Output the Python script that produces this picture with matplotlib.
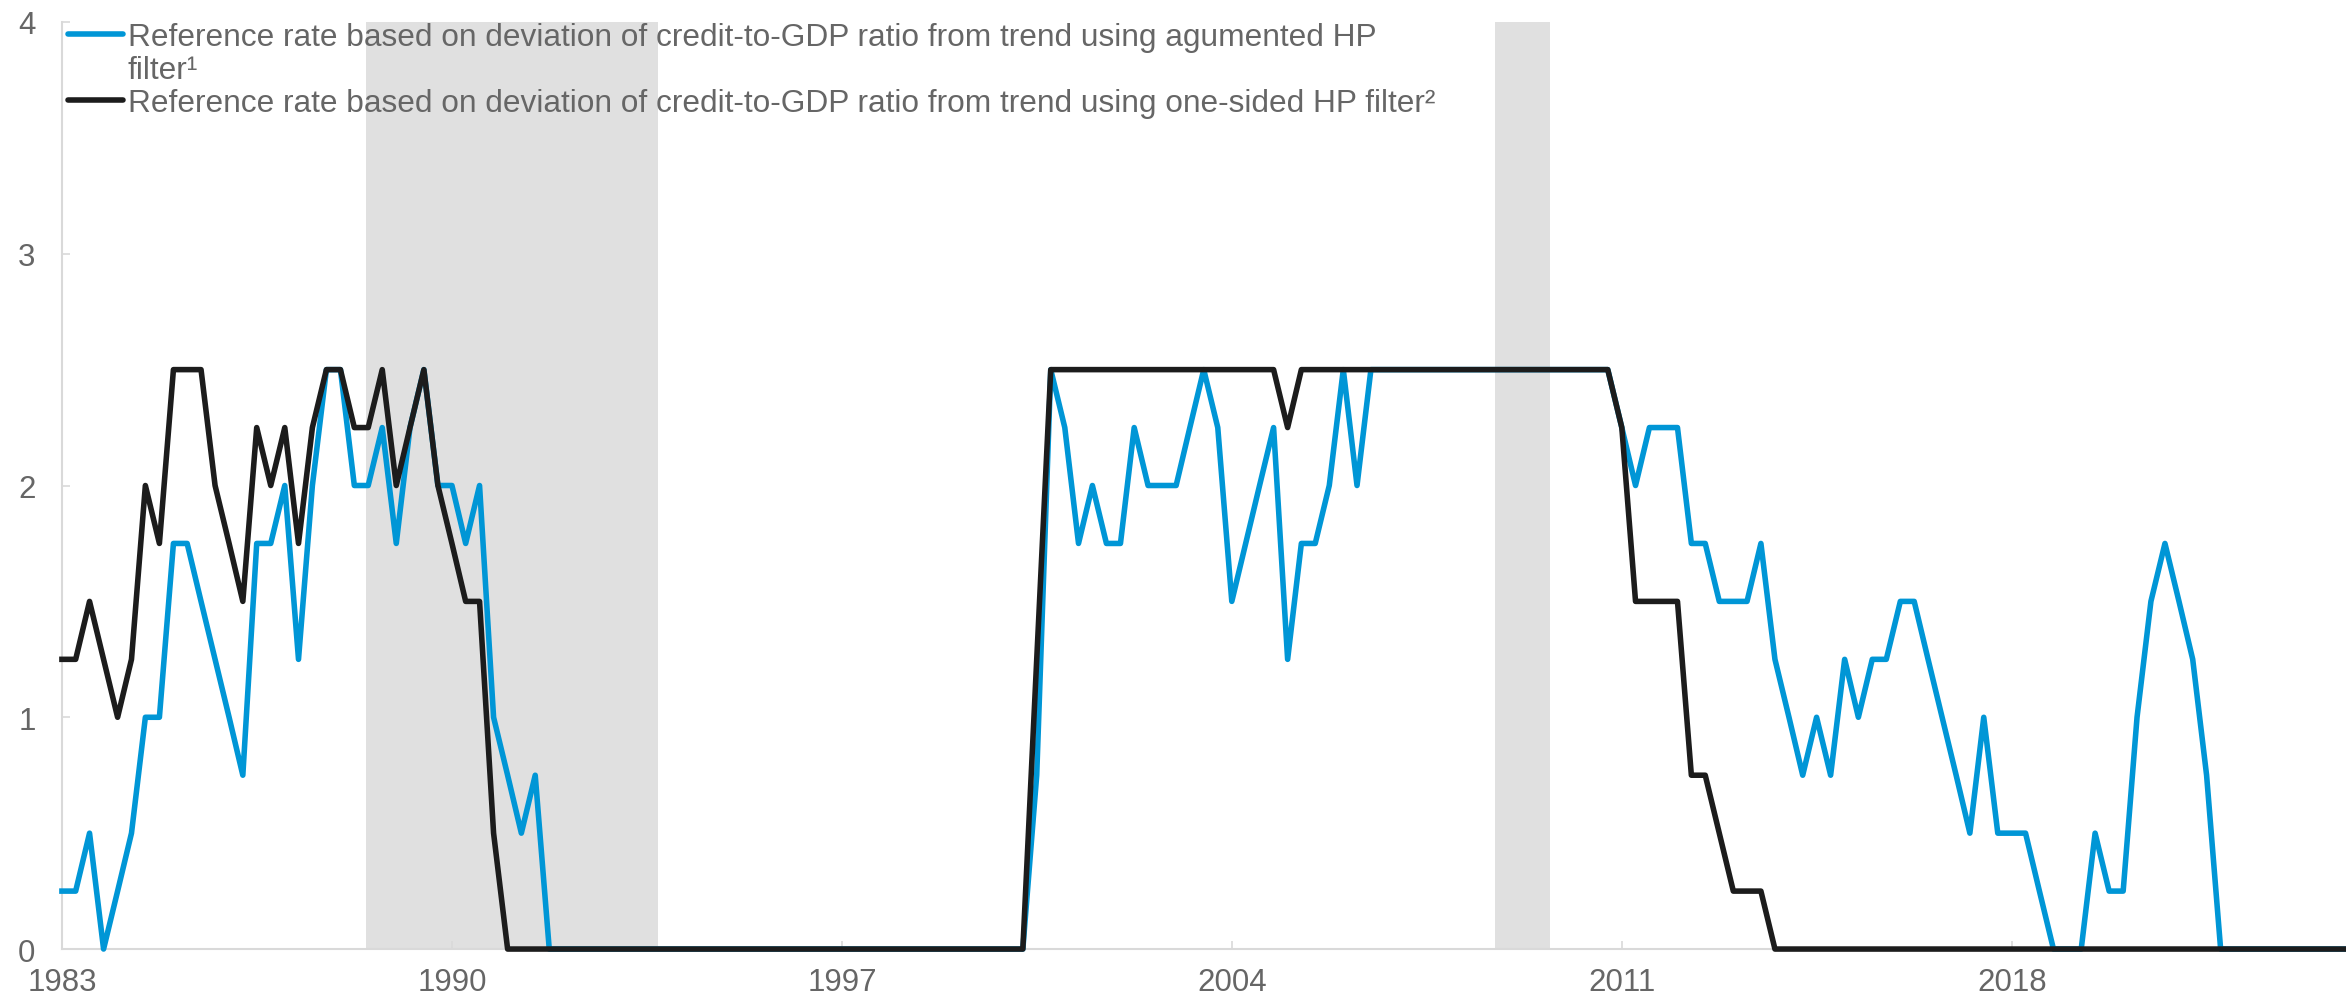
import numpy as np
import pandas as pd
import matplotlib
matplotlib.use('Agg')
import matplotlib.pyplot as plt
import matplotlib.dates as mdates
from matplotlib.lines import Line2D

plt.rcParams['font.family'] = ['Liberation Sans', 'DejaVu Sans']

# quarterly reference rates, 1983Q1 - 2024Q1 (one row per year)
rate_aug = [
    0.25, 0.25, 0.5, 0,        # 1983
    0.25, 0.5, 1.0, 1.0,       # 1984
    1.75, 1.75, 1.5, 1.25,     # 1985
    1.0, 0.75, 1.75, 1.75,     # 1986
    2.0, 1.25, 2.0, 2.5,       # 1987
    2.5, 2.0, 2.0, 2.25,       # 1988
    1.75, 2.25, 2.5, 2.0,      # 1989
    2.0, 1.75, 2.0, 1.0,       # 1990
    0.75, 0.5, 0.75, 0,        # 1991
    0, 0, 0, 0,                # 1992
    0, 0, 0, 0,                # 1993
    0, 0, 0, 0,                # 1994
    0, 0, 0, 0,                # 1995
    0, 0, 0, 0,                # 1996
    0, 0, 0, 0,                # 1997
    0, 0, 0, 0,                # 1998
    0, 0, 0, 0,                # 1999
    0, 0, 0.75, 2.5,           # 2000
    2.25, 1.75, 2.0, 1.75,     # 2001
    1.75, 2.25, 2.0, 2.0,      # 2002
    2.0, 2.25, 2.5, 2.25,      # 2003
    1.5, 1.75, 2.0, 2.25,      # 2004
    1.25, 1.75, 1.75, 2.0,     # 2005
    2.5, 2.0, 2.5, 2.5,        # 2006
    2.5, 2.5, 2.5, 2.5,        # 2007
    2.5, 2.5, 2.5, 2.5,        # 2008
    2.5, 2.5, 2.5, 2.5,        # 2009
    2.5, 2.5, 2.5, 2.5,        # 2010
    2.25, 2.0, 2.25, 2.25,     # 2011
    2.25, 1.75, 1.75, 1.5,     # 2012
    1.5, 1.5, 1.75, 1.25,      # 2013
    1.0, 0.75, 1.0, 0.75,      # 2014
    1.25, 1.0, 1.25, 1.25,     # 2015
    1.5, 1.5, 1.25, 1.0,       # 2016
    0.75, 0.5, 1.0, 0.5,       # 2017
    0.5, 0.5, 0.25, 0,         # 2018
    0, 0, 0.5, 0.25,           # 2019
    0.25, 1.0, 1.5, 1.75,      # 2020
    1.5, 1.25, 0.75, 0,        # 2021
    0, 0, 0, 0,                # 2022
    0, 0, 0, 0,                # 2023
    0,                         # 2024
]
rate_one = [
    1.25, 1.25, 1.5, 1.25,     # 1983
    1.0, 1.25, 2.0, 1.75,      # 1984
    2.5, 2.5, 2.5, 2.0,        # 1985
    1.75, 1.5, 2.25, 2.0,      # 1986
    2.25, 1.75, 2.25, 2.5,     # 1987
    2.5, 2.25, 2.25, 2.5,      # 1988
    2.0, 2.25, 2.5, 2.0,       # 1989
    1.75, 1.5, 1.5, 0.5,       # 1990
    0, 0, 0, 0,                # 1991
    0, 0, 0, 0,                # 1992
    0, 0, 0, 0,                # 1993
    0, 0, 0, 0,                # 1994
    0, 0, 0, 0,                # 1995
    0, 0, 0, 0,                # 1996
    0, 0, 0, 0,                # 1997
    0, 0, 0, 0,                # 1998
    0, 0, 0, 0,                # 1999
    0, 0, 1.25, 2.5,           # 2000
    2.5, 2.5, 2.5, 2.5,        # 2001
    2.5, 2.5, 2.5, 2.5,        # 2002
    2.5, 2.5, 2.5, 2.5,        # 2003
    2.5, 2.5, 2.5, 2.5,        # 2004
    2.25, 2.5, 2.5, 2.5,       # 2005
    2.5, 2.5, 2.5, 2.5,        # 2006
    2.5, 2.5, 2.5, 2.5,        # 2007
    2.5, 2.5, 2.5, 2.5,        # 2008
    2.5, 2.5, 2.5, 2.5,        # 2009
    2.5, 2.5, 2.5, 2.5,        # 2010
    2.25, 1.5, 1.5, 1.5,       # 2011
    1.5, 0.75, 0.75, 0.5,      # 2012
    0.25, 0.25, 0.25, 0,       # 2013
    0, 0, 0, 0,                # 2014
    0, 0, 0, 0,                # 2015
    0, 0, 0, 0,                # 2016
    0, 0, 0, 0,                # 2017
    0, 0, 0, 0,                # 2018
    0, 0, 0, 0,                # 2019
    0, 0, 0, 0,                # 2020
    0, 0, 0, 0,                # 2021
    0, 0, 0, 0,                # 2022
    0, 0, 0, 0,                # 2023
    0,                         # 2024
]
dates = pd.date_range('1983-01-01', periods=len(rate_aug), freq='QS')

# shaded periods
shade = [('1988-06-15', '1993-09-15'), ('2008-09-20', '2009-09-15')]

label_aug = 'Reference rate based on deviation of credit-to-GDP ratio from trend using agumented HP'
label_aug2 = 'filter¹'
label_one = 'Reference rate based on deviation of credit-to-GDP ratio from trend using one-sided HP filter²'
tick_years = [1983, 1990, 1997, 2004, 2011, 2018]

c_blue = '#0096d6'
c_black = '#1c1c1c'
c_text = '#666666'
c_axis = '#d9d9d9'

fig = plt.figure(figsize=(23.46, 10.03), dpi=100)
ax = fig.add_axes([0.0264, 0.0528, 0.9736, 0.9243])

for s, e in shade:
    ax.axvspan(pd.Timestamp(s), pd.Timestamp(e), color='#e0e0e0', lw=0, zorder=0)

ax.plot(dates, rate_aug, color=c_blue, lw=4.0, zorder=3, clip_on=False)
ax.plot(dates, rate_one, color=c_black, lw=4.0, zorder=4, clip_on=False)

ax.set_ylim(0, 4)
ax.set_yticks([0, 1, 2, 3, 4])
ax.set_xlim(dates[0], dates[-1])
ax.set_xticks([pd.Timestamp(f'{y}-01-01') for y in tick_years])
ax.xaxis.set_major_formatter(mdates.DateFormatter('%Y'))

for sp in ['top', 'right']:
    ax.spines[sp].set_visible(False)
for sp in ['left', 'bottom']:
    ax.spines[sp].set_color(c_axis)
    ax.spines[sp].set_linewidth(1.5)
ax.tick_params(axis='both', direction='in', length=6, width=1.2, color=c_axis,
               labelcolor=c_text, labelsize=22.5)
ax.tick_params(axis='y', pad=19)
ax.tick_params(axis='x', pad=13)

handles = [Line2D([], [], color=c_blue, lw=4.0, solid_capstyle='round'),
           Line2D([], [], color='none'),
           Line2D([], [], color=c_black, lw=4.0, solid_capstyle='round')]
leg = ax.legend(handles, [label_aug, label_aug2, label_one], loc='upper left',
                bbox_to_anchor=(0.0025, 1.0), frameon=False, fontsize=22.8,
                handlelength=1.75, handletextpad=0.15, labelspacing=0.1,
                borderpad=0, borderaxespad=0)
for t in leg.get_texts():
    t.set_color(c_text)
leg.set_zorder(5)

fig.savefig('out.png', dpi=100)
